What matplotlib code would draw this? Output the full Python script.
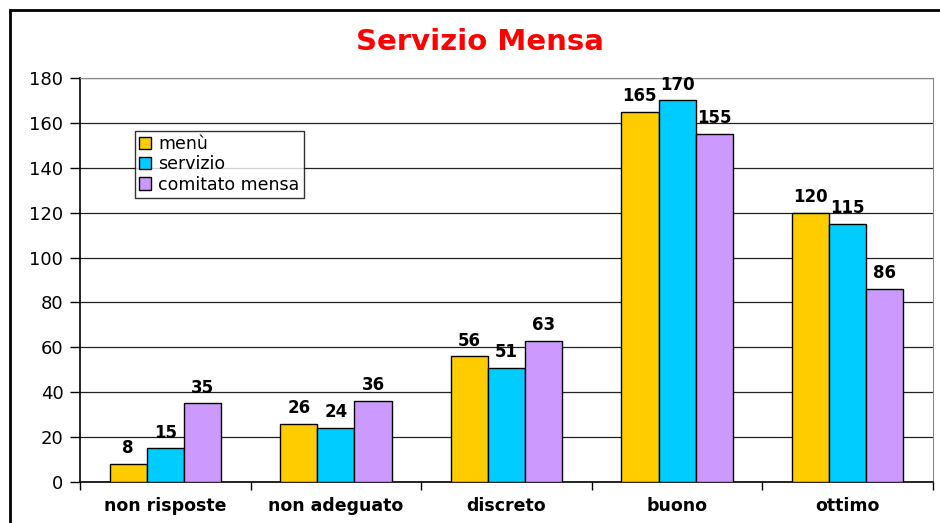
import numpy as np
import matplotlib.pyplot as plt
from matplotlib.patches import Rectangle

categories = ['non risposte', 'non adeguato', 'discreto', 'buono', 'ottimo']
menu = [8, 26, 56, 165, 120]
servizio = [15, 24, 51, 170, 115]
comitato = [35, 36, 63, 155, 86]
series_names = ['menù', 'servizio', 'comitato mensa']
colors = ['#FFCC00', '#00CCFF', '#CC99FF']

plt.rcParams['font.family'] = ['DejaVu Sans']

fig = plt.figure(figsize=(9.4, 5.23), dpi=100)
ax = fig.add_axes([80 / 940, 1 - 482 / 523, 853 / 940, 404 / 523])

x = np.arange(len(categories))
width = 0.218
for i, (vals, name, c) in enumerate(zip([menu, servizio, comitato], series_names, colors)):
    pos = x + (i - 1) * width
    ax.bar(pos, vals, width, color=c, edgecolor='black', linewidth=1, label=name, zorder=3)
    for px, v in zip(pos, vals):
        ax.text(px, v + 3, str(v), ha='center', va='bottom', fontsize=12,
                fontweight='bold', zorder=4)

ax.set_xlim(-0.5, len(categories) - 0.5)
ax.set_ylim(0, 180)
ax.set_yticks(range(0, 181, 20))
ax.yaxis.grid(True, color='#222222', linewidth=0.9, zorder=0)
ax.set_xticks(x)
ax.set_xticklabels(categories, fontsize=12.5, fontweight='bold')
ax.set_xticks(np.arange(-0.5, len(categories)), minor=True)
ax.tick_params(axis='x', which='major', length=0, pad=11)
ax.tick_params(axis='x', which='minor', length=6, width=1, direction='out')
ax.tick_params(axis='y', length=7, width=1, labelsize=13, pad=5)

for side in ['top', 'right']:
    ax.spines[side].set_color('#888888')
for side in ['left', 'bottom']:
    ax.spines[side].set_color('black')
    ax.spines[side].set_linewidth(1.2)

leg = ax.legend(loc='upper left', bbox_to_anchor=(55 / 853, 1 - 53 / 404), fontsize=12.5,
                frameon=True, fancybox=False, edgecolor='black', handlelength=0.7,
                handleheight=0.7, handletextpad=0.4, borderpad=0.25, labelspacing=0.12,
                borderaxespad=0)
leg.get_frame().set_linewidth(1)

fig.text(480 / 940, 1 - 42 / 523, 'Servizio Mensa', ha='center', va='center',
         fontsize=21, fontweight='bold', color='#FF0000')

fig.patches.append(Rectangle((10 / 940, -0.1), 1.2, 1 - 10 / 523 + 0.1,
                             transform=fig.transFigure, fill=False,
                             edgecolor='black', linewidth=2))

fig.savefig('out.png', dpi=100)
